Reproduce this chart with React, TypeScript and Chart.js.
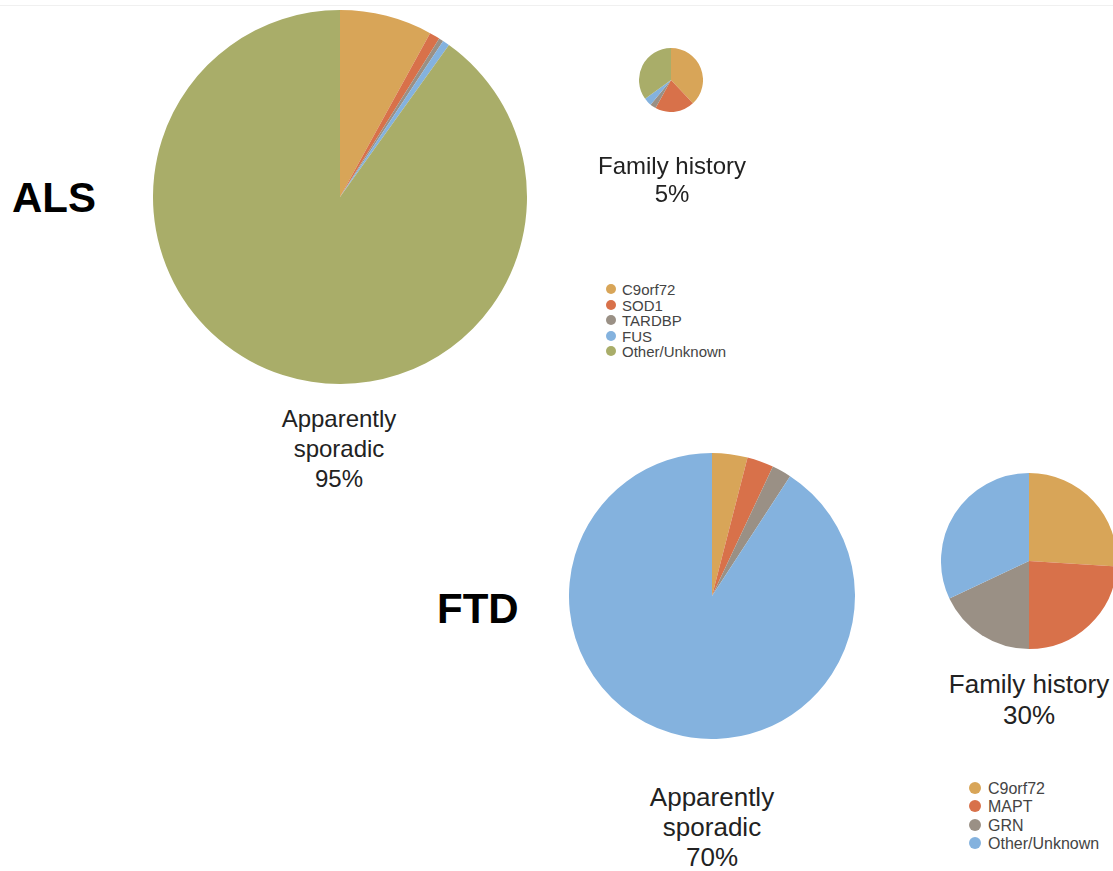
import React, { useEffect, useRef } from "react";
import { Chart, registerables } from "chart.js";

Chart.register(...registerables);

const alsLabels = ["C9orf72", "SOD1", "TARDBP", "FUS", "Other/Unknown"];
const alsSporadic = [8, 0.9, 0.4, 0.6, 90.1];
const alsFamilial = [38, 20, 3, 4, 35];
const alsColors = ["#D8A558", "#D8714A", "#9A9085", "#84B2DE", "#A9AD69"];

const ftdLabels = ["C9orf72", "MAPT", "GRN", "Other/Unknown"];
const ftdSporadic = [4, 3, 2.2, 90.8];
const ftdFamilial = [26, 24, 18, 32];
const ftdColors = ["#D8A558", "#D8714A", "#9A9085", "#84B2DE"];

const FONT = "'Liberation Sans', Arial, Helvetica, sans-serif";

function Pie(props: { labels: string[]; data: number[]; colors: string[]; cx: number; cy: number; r: number }) {
  const ref = useRef<HTMLCanvasElement | null>(null);
  useEffect(() => {
    if (!ref.current) return;
    const chart = new Chart(ref.current, {
      type: "pie",
      data: {
        labels: props.labels,
        datasets: [
          {
            data: props.data,
            backgroundColor: props.colors,
            borderWidth: 0,
            hoverOffset: 0,
            offset: 0,
          },
        ],
      },
      options: {
        responsive: false,
        animation: false,
        events: [],
        layout: { padding: 0 },
        plugins: { legend: { display: false }, tooltip: { enabled: false } },
      },
    });
    return () => chart.destroy();
  }, []);
  const size = props.r * 2;
  return (
    <canvas
      ref={ref}
      width={size}
      height={size}
      style={{ position: "absolute", left: props.cx - props.r, top: props.cy - props.r, width: size, height: size }}
    />
  );
}

function Label(props: { lines: string[]; cx: number; top: number; size: number; lh: number }) {
  return (
    <div
      style={{
        position: "absolute",
        left: props.cx - 150,
        top: props.top,
        width: 300,
        textAlign: "center",
        fontFamily: FONT,
        fontSize: props.size,
        lineHeight: props.lh + "px",
        color: "#222",
      }}
    >
      {props.lines.map((l, i) => (
        <div key={i}>{l}</div>
      ))}
    </div>
  );
}

function Legend(props: { labels: string[]; colors: string[]; x: number; y: number; step: number; dot: number; size: number }) {
  return (
    <div style={{ position: "absolute", left: props.x, top: props.y, fontFamily: FONT, fontSize: props.size, color: "#444" }}>
      {props.labels.map((l, i) => (
        <div key={i} style={{ position: "absolute", left: 0, top: i * props.step - props.step / 2, height: props.step, lineHeight: props.step + "px", whiteSpace: "nowrap" }}>
          <span
            style={{
              display: "inline-block",
              width: props.dot * 2,
              height: props.dot * 2,
              borderRadius: "50%",
              background: props.colors[i],
              verticalAlign: "middle",
              marginRight: Math.round(props.dot * 1.1),
              position: "relative",
              top: -1,
            }}
          />
          <span style={{ verticalAlign: "middle" }}>{l}</span>
        </div>
      ))}
    </div>
  );
}

export default function App() {
  return (
    <div style={{ position: "fixed", left: 0, top: 0, width: 1113, height: 871, overflow: "hidden", background: "#fff" }}>
      <div style={{ position: "absolute", left: 0, top: 5, width: 1113, height: 1, background: "#f0f0f0" }} />
      <Pie labels={alsLabels} data={alsSporadic} colors={alsColors} cx={340} cy={197} r={187} />
      <Pie labels={alsLabels} data={alsFamilial} colors={alsColors} cx={671} cy={80} r={32} />
      <Pie labels={ftdLabels} data={ftdSporadic} colors={ftdColors} cx={712} cy={596} r={143} />
      <Pie labels={ftdLabels} data={ftdFamilial} colors={ftdColors} cx={1029} cy={561} r={88} />

      <div style={{ position: "absolute", left: 12, top: 174, fontFamily: FONT, fontWeight: "bold", fontSize: 42, color: "#000" }}>ALS</div>
      <div style={{ position: "absolute", left: 437, top: 585, fontFamily: FONT, fontWeight: "bold", fontSize: 42, color: "#000" }}>FTD</div>

      <Label lines={["Family history", "5%"]} cx={672} top={152} size={24} lh={28} />
      <Label lines={["Apparently", "sporadic", "95%"]} cx={339} top={404} size={24} lh={30} />
      <Label lines={["Apparently", "sporadic", "70%"]} cx={712} top={782} size={26} lh={30} />
      <Label lines={["Family history", "30%"]} cx={1029} top={669} size={26} lh={31} />

      <Legend labels={alsLabels} colors={alsColors} x={606} y={289} step={15.5} dot={5} size={15} />
      <Legend labels={ftdLabels} colors={ftdColors} x={969} y={788} step={18.5} dot={6} size={16} />
    </div>
  );
}
